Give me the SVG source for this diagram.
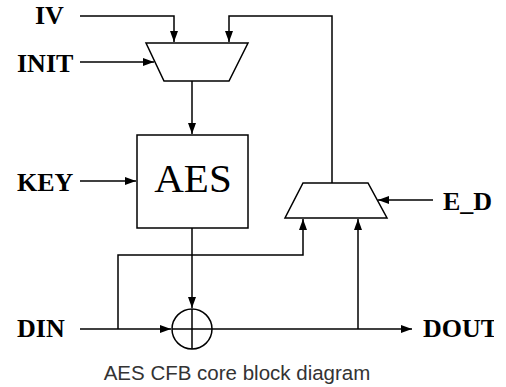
<svg xmlns="http://www.w3.org/2000/svg" width="506" height="387" viewBox="0 0 506 387">
<style>
.lbl{font-family:"Liberation Serif","Times New Roman",serif;font-weight:bold;font-size:26px;fill:#000}
.ln{fill:none;stroke:#000;stroke-width:1.5}
.blk{fill:#fff;stroke:#000;stroke-width:1.5}
.cap{font-family:"Liberation Sans",Arial,sans-serif;font-size:20.5px;fill:#333}
</style>
<defs>
<marker id="ar" markerWidth="12" markerHeight="10" refX="11" refY="5" orient="auto" markerUnits="userSpaceOnUse">
<path d="M0,1 L11,5 L0,9 z" fill="#000"/>
</marker>
<clipPath id="cl"><rect x="0" y="0" width="494" height="387"/></clipPath>
</defs>
<rect width="506" height="387" fill="#fff"/>
<g id="connectors">
<path class="ln" d="M80 16 H174 V42" marker-end="url(#ar)"/>
<path class="ln" d="M80 62 H154" marker-end="url(#ar)"/>
<path class="ln" d="M192 81 V134" marker-end="url(#ar)"/>
<path class="ln" d="M80 181 H136" marker-end="url(#ar)"/>
<path class="ln" d="M192 228 V308" marker-end="url(#ar)"/>
<path class="ln" d="M80 329 H171" marker-end="url(#ar)"/>
<path class="ln" d="M118 329 V255 H303 V219" marker-end="url(#ar)"/>
<path class="ln" d="M212 329 H412" marker-end="url(#ar)"/>
<path class="ln" d="M358 329 V219" marker-end="url(#ar)"/>
<path class="ln" d="M332 183 V16 H229 V42" marker-end="url(#ar)"/>
<path class="ln" d="M433 200 H378" marker-end="url(#ar)"/>
</g>
<g id="mux1"><polygon class="blk" points="146,43 248,43 229,81 164,81"/></g>
<g id="aes"><rect class="blk" x="137" y="135" width="111" height="93"/>
<text x="193" y="192" text-anchor="middle" style="font-family:'Liberation Serif','Times New Roman',serif;font-size:41px">AES</text></g>
<g id="xor"><circle class="blk" cx="192" cy="329" r="20"/><path class="ln" d="M172 329 H212 M192 309 V349"/></g>
<g id="mux2"><polygon class="blk" points="303,183 368,183 387,218 285,218"/></g>
<g id="labels">
<text class="lbl" x="35" y="24">IV</text>
<text class="lbl" x="17" y="72">INIT</text>
<text class="lbl" x="17" y="191">KEY</text>
<text class="lbl" x="17" y="337">DIN</text>
<text class="lbl" x="443" y="210">E_D</text>
<text class="lbl" x="423" y="337" clip-path="url(#cl)">DOUT</text>
</g>
<text class="cap" x="237" y="380" text-anchor="middle">AES CFB core block diagram</text>
</svg>
